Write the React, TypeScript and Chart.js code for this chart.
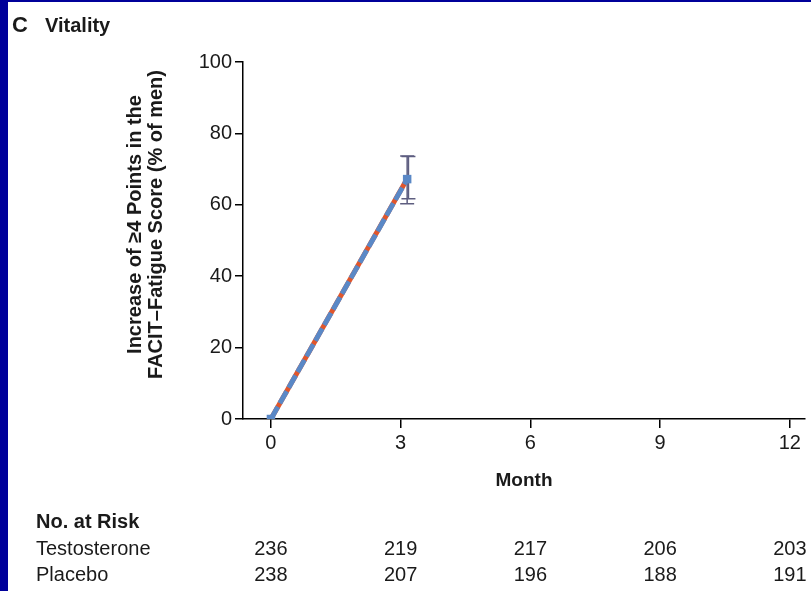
import React, { useEffect, useRef } from "react";
import { Chart, registerables } from "chart.js";

Chart.register(...registerables);

const panelLetter = "C";
const panelTitle = "Vitality";
const yTitleLines = ["Increase of ≥4 Points in the", "FACIT–Fatigue Score (% of men)"];
const xTitle = "Month";

const monthTicks = [0, 3, 6, 9, 12];
const yTicks = [0, 20, 40, 60, 80, 100];

const testosteroneMonths = [0, 3.15];
const testosteroneValues = [0, 67.2];
const testosteroneLower = [0, 60.3];
const testosteroneUpper = [0, 73.7];

const placeboMonths = [0, 3.18];
const placeboValues = [0, 67.9];
const placeboLower = [0, 61.7];
const placeboUpper = [0, 73.5];

const riskHeader = "No. at Risk";
const riskGroups = ["Testosterone", "Placebo"];
const testosteroneAtRisk = [236, 219, 217, 206, 203];
const placeboAtRisk = [238, 207, 196, 188, 191];

const FONT = "'Liberation Sans', Arial, sans-serif";
const BLUE = "#5a88c6";
const RED = "#e0562c";
const ERR = "#5e5e80";
const TEXT = "#1a1a1a";

const annotations = {
  id: "annotations",
  beforeDatasetsDraw(chart: any) {
    const { ctx } = chart;
    const xs = chart.scales.x;
    const ys = chart.scales.y;
    const series = [
      { m: placeboMonths, lo: placeboLower, hi: placeboUpper },
      { m: testosteroneMonths, lo: testosteroneLower, hi: testosteroneUpper },
    ];
    ctx.save();
    ctx.strokeStyle = ERR;
    ctx.lineWidth = 1.5;
    for (const s of series) {
      for (let i = 0; i < s.m.length; i++) {
        if (!(s.hi[i] > s.lo[i])) continue;
        const x = xs.getPixelForValue(s.m[i]);
        const y1 = ys.getPixelForValue(s.hi[i]);
        const y2 = ys.getPixelForValue(s.lo[i]);
        ctx.beginPath();
        ctx.moveTo(x, y1);
        ctx.lineTo(x, y2);
        ctx.moveTo(x - 7, y1);
        ctx.lineTo(x + 7, y1);
        ctx.moveTo(x - 7, y2);
        ctx.lineTo(x + 7, y2);
        ctx.stroke();
      }
    }
    ctx.restore();
  },
  afterDraw(chart: any) {
    const { ctx, chartArea } = chart;
    const xs = chart.scales.x;
    ctx.save();
    ctx.fillStyle = TEXT;
    ctx.textBaseline = "alphabetic";
    ctx.textAlign = "left";
    ctx.font = `bold 22px ${FONT}`;
    ctx.fillText(panelLetter, 12, 32);
    ctx.font = `bold 20px ${FONT}`;
    ctx.fillText(panelTitle, 45, 32);

    // y axis title
    ctx.save();
    ctx.translate(chartArea.left - 108, (chartArea.top + chartArea.bottom) / 2 - 16);
    ctx.rotate(-Math.PI / 2);
    ctx.textAlign = "center";
    ctx.textBaseline = "middle";
    ctx.font = `bold 20px ${FONT}`;
    yTitleLines.forEach((line, i) => ctx.fillText(line, 0, i * 21));
    ctx.restore();

    // risk table
    ctx.textBaseline = "middle";
    ctx.textAlign = "left";
    ctx.font = `bold 20px ${FONT}`;
    ctx.fillText(riskHeader, 36, 522);
    ctx.font = `20px ${FONT}`;
    const rows = [testosteroneAtRisk, placeboAtRisk];
    const rowY = [549, 575];
    rows.forEach((row, r) => {
      ctx.textAlign = "left";
      ctx.fillText(riskGroups[r], 36, rowY[r]);
      ctx.textAlign = "center";
      row.forEach((n, i) => {
        ctx.fillText(String(n), xs.getPixelForValue(monthTicks[i]), rowY[r]);
      });
    });
    ctx.restore();
  },
};

export default function App() {
  const ref = useRef<HTMLCanvasElement | null>(null);
  useEffect(() => {
    if (!ref.current) return;
    const chart = new Chart(ref.current, {
      type: "line",
      data: {
        datasets: [
          {
            label: "Testosterone",
            data: testosteroneMonths.map((x, i) => ({ x, y: testosteroneValues[i] })),
            borderColor: BLUE,
            backgroundColor: BLUE,
            borderWidth: 5,
            borderDash: [14, 4],
            pointStyle: "rect",
            pointRadius: 6,
            pointBorderWidth: 0,
            pointBackgroundColor: BLUE,
            tension: 0,
          },
          {
            label: "Placebo",
            data: placeboMonths.map((x, i) => ({ x, y: placeboValues[i] })),
            borderColor: RED,
            backgroundColor: RED,
            borderWidth: 5,
            pointRadius: 0,
            tension: 0,
          },
        ],
      },
      options: {
        animation: false,
        responsive: false,
        devicePixelRatio: 1,
        layout: { padding: { left: 0, top: 62, right: 0, bottom: 92 } },
        plugins: { legend: { display: false }, tooltip: { enabled: false } },
        scales: {
          x: {
            type: "linear",
            min: -0.646,
            max: 12.35,
            afterBuildTicks: (s: any) => {
              s.ticks = monthTicks.map((v) => ({ value: v }));
            },
            afterFit: (s: any) => {
              s.height = 80;
            },
            grid: { drawOnChartArea: false, tickLength: 9, color: "#000", lineWidth: 1.5 },
            border: { color: "#000", width: 1.5 },
            ticks: {
              color: TEXT,
              font: { family: FONT, size: 20 },
              padding: 3,
              maxRotation: 0,
              autoSkip: false,
            },
            title: {
              display: true,
              text: xTitle,
              color: TEXT,
              font: { family: FONT, size: 19, weight: "bold" },
              padding: { top: 0, bottom: 7 },
            },
          },
          y: {
            type: "linear",
            min: 0,
            max: 100,
            afterBuildTicks: (s: any) => {
              s.ticks = yTicks.map((v) => ({ value: v }));
            },
            afterFit: (s: any) => {
              s.width = 243;
            },
            grid: { drawOnChartArea: false, tickLength: 8, color: "#000", lineWidth: 1.5 },
            border: { color: "#000", width: 1.5 },
            ticks: { color: TEXT, font: { family: FONT, size: 20 }, padding: 3 },
          },
        },
      },
      plugins: [annotations],
    } as any);
    return () => chart.destroy();
  }, []);

  return (
    <div style={{ position: "fixed", left: 0, top: 0, width: 811, height: 591, background: "#fff" }}>
      <canvas ref={ref} width={811} height={591} style={{ display: "block", width: 811, height: 591 }} />
      <div style={{ position: "absolute", left: 0, top: 0, width: 8, height: 591, background: "#00009a" }} />
      <div style={{ position: "absolute", left: 0, top: 0, width: 811, height: 2, background: "#00009a" }} />
    </div>
  );
}
